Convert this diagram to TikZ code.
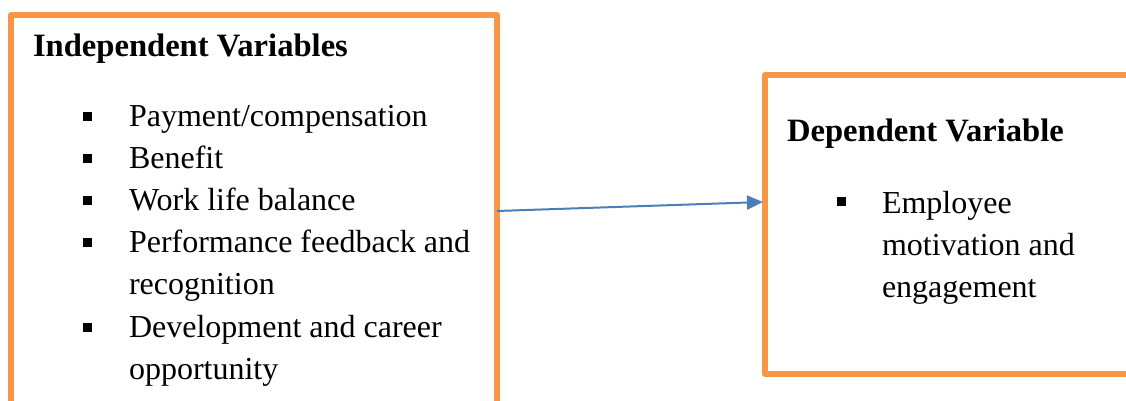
\documentclass[tikz,border=0pt]{standalone}
\usepackage{fontspec}
\setmainfont{Liberation Serif}
\usetikzlibrary{arrows.meta}
\definecolor{boxorange}{HTML}{F79646}
\definecolor{arrowblue}{HTML}{4A7EBB}
\tikzset{
  frame/.style={draw=boxorange, line width=6pt, rectangle, inner sep=0pt, outer sep=0pt, line join=round},
  txt/.style={anchor=base west, inner sep=0pt, outer sep=0pt, font=\fontsize{32}{42}\selectfont},
  head/.style={txt, font=\fontsize{32.6}{42}\selectfont\bfseries},
  bul/.style={fill=black, rectangle, minimum size=9pt, inner sep=0pt, outer sep=0pt, anchor=south west},
  link/.style={draw=arrowblue, line width=2pt, -{Triangle[length=16pt,width=14pt]}}
}
\begin{document}
\begin{tikzpicture}[x=1pt,y=-1pt]
\useasboundingbox (0,0) rectangle (1126,401);
\clip (0,0) rectangle (1126,401);
% boxes
\node[frame, minimum width=486pt, minimum height=392pt] (indep) at (254,211) {};
\node[frame, minimum width=375pt, minimum height=299pt] (dep) at (952.5,224.5) {};
% left texts
\node[head] (h1) at (33,57) {Independent Variables};
\node[bul] (b1) at (83,121) {};
\node[txt] (t1) at (129,126) {Payment/compensation};
\node[bul] (b2) at (83,163) {};
\node[txt] (t2) at (129,168) {Benefit};
\node[bul] (b3) at (83,205) {};
\node[txt] (t3) at (129,210) {Work life balance};
\node[bul] (b4) at (83,247) {};
\node[txt] (t4) at (129,252) {Performance feedback and};
\node[txt] (t4b) at (129,294) {recognition};
\node[bul] (b5) at (83,332) {};
\node[txt] (t5) at (129,337) {Development and career};
\node[txt] (t5b) at (129,379) {opportunity};
% right texts
\node[head] (h2) at (787,142) {Dependent Variable};
\node[bul] (b6) at (837,206) {};
\node[txt] (t6) at (882,213) {Employee};
\node[txt] (t6b) at (882,255) {motivation and};
\node[txt] (t6c) at (882,297) {engagement};
% connector
\draw[link] (indep.east) -- ([xshift=-2pt,yshift=22.5pt]dep.west);
\end{tikzpicture}
\end{document}
